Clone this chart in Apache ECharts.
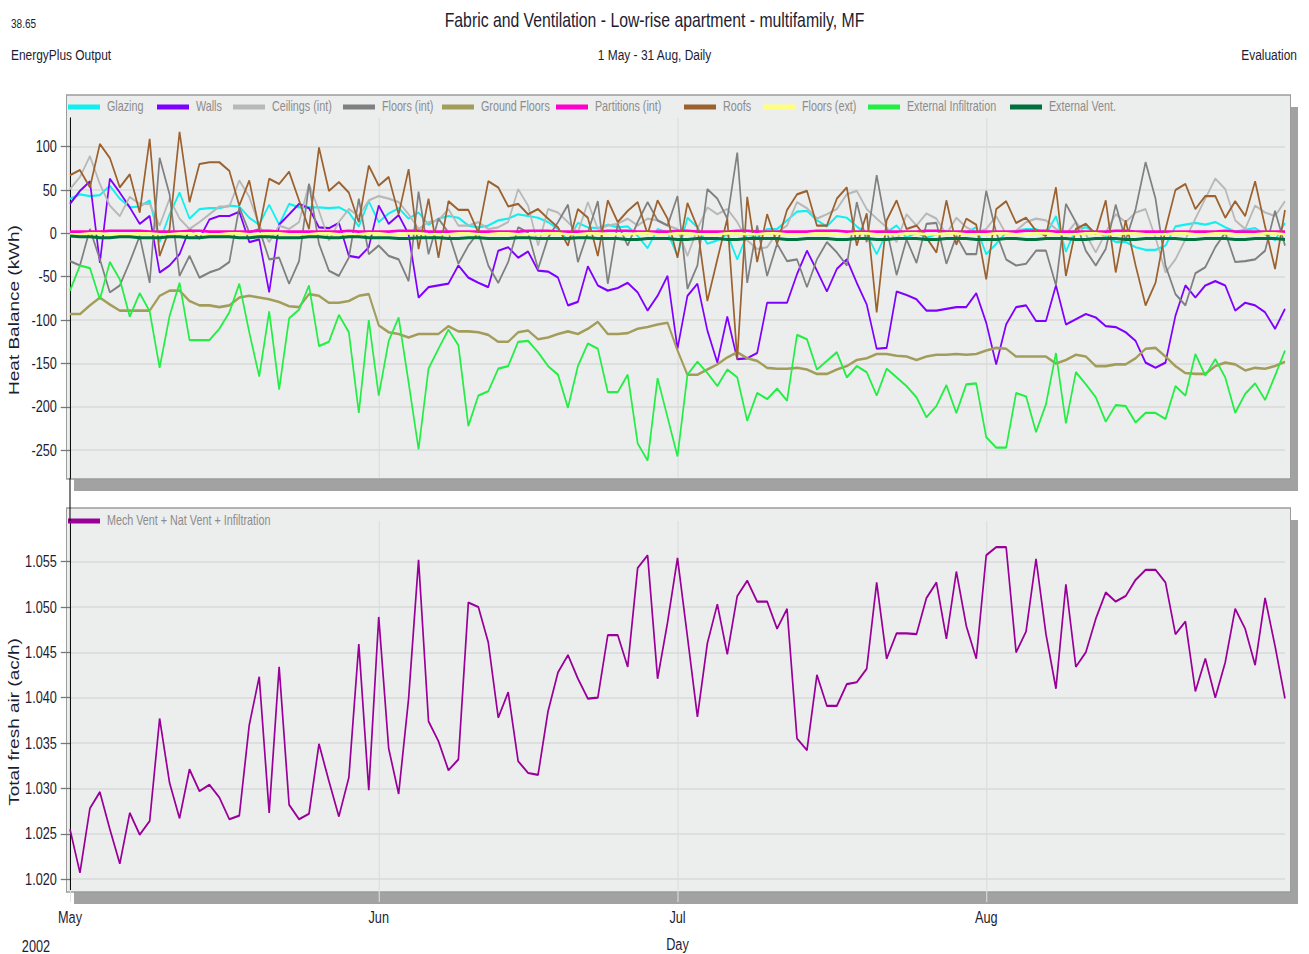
<!DOCTYPE html>
<html>
<head>
<meta charset="utf-8">
<script src="https://cdn.jsdelivr.net/npm/echarts@6/dist/echarts.min.js"></script>
<style>
html,body{margin:0;padding:0;background:#fff;overflow:hidden;width:1309px;height:954px;}
#wrap{width:1309px;height:954px;overflow:hidden;position:relative;}
#chart{width:1700px;height:954px;transform:scaleX(0.77);transform-origin:0 0;position:absolute;left:0;top:0;}
</style>
</head>
<body>
<div id="wrap"><div id="chart"></div></div>
<script>
// ---------- categories / tick labels ----------
const monthNames = ['May', 'Jun', 'Jul', 'Aug'];
const monthLengths = [31, 30, 31, 31];
const yearLabel = '2002';

// ---------- top panel series: Heat Balance (kWh), daily 1 May - 31 Aug ----------
const glazing = [40,45,43,44,55,40,30,31,38,-10,22,47,17,28,29,29,32,31,18,10,33,10,34,30,30,30,29,30,24,8,37,13,
23,29,17,24,10,17,20,18,9,7,9,15,17,22,20,18,13,5,-8,12,7,6,10,7,8,-3,-17,5,1,-26,
18,7,-12,-8,-1,-30,-1,-5,5,5,15,25,26,15,8,20,18,8,-1,-24,1,9,-5,1,-5,-1,3,1,1,7,-24,
-12,1,3,5,5,-1,20,-21,5,7,1,-3,-10,-10,-16,-19,-19,-14,8,10,12,10,13,7,2,4,6,-1,-8,12];

const walls = [34,49,60,-34,63,47,30,11,20,-45,-37,-24,5,-6,16,20,20,25,-10,-7,-68,10,22,34,29,7,6,12,-26,-28,-16,32,
11,21,-1,-74,-62,-60,-58,-37,-51,-57,-62,-20,-16,-28,-21,-43,-44,-51,-83,-79,-38,-60,-66,-63,-57,-68,-89,-72,-49,-133,
-72,-58,-112,-149,-96,-145,-144,-138,-80,-80,-80,-47,-20,-43,-67,-41,-30,-57,-82,-133,-132,-67,-71,-76,-89,-89,-87,-85,-85,-69,-103,
-151,-105,-85,-83,-101,-101,-60,-105,-99,-93,-97,-107,-108,-114,-124,-149,-155,-149,-95,-60,-74,-60,-55,-60,-89,-80,-83,-91,-110,-87];

const ceilingsInt = [51,65,89,57,32,20,42,34,34,9,40,17,5,13,22,31,31,61,42,9,-10,9,5,13,57,26,-8,13,28,20,38,43,
40,36,22,5,13,15,28,9,9,13,5,7,13,51,32,-14,28,24,13,1,36,5,9,11,17,9,17,15,9,5,
-26,5,30,22,28,13,-8,-18,-16,1,9,36,29,17,22,28,45,49,28,17,7,-10,22,9,23,17,-1,18,7,1,5,
20,-1,3,13,17,15,5,-1,13,-1,-22,1,22,13,24,28,-5,-45,-30,-7,17,40,63,51,15,5,32,24,20,37];

const floorsInt = [-32,-37,5,-30,-68,-60,-33,-3,-57,87,45,-49,-26,-51,-45,-41,-33,30,1,5,-30,-28,-58,-32,57,-12,-43,-49,-28,40,-24,-14,
-26,-30,-55,48,-24,17,1,-35,-14,1,-37,-57,-33,7,1,-41,-5,13,33,-33,1,37,-58,11,-14,13,36,15,9,43,
-64,-37,51,40,17,93,-57,9,-49,-12,-32,-30,-62,-30,-10,-22,-37,36,-10,67,5,-48,-7,-34,11,12,-35,-3,-24,-24,49,
1,-30,-37,-35,-20,-20,-60,34,13,-20,-37,-18,33,-8,28,82,40,-37,-70,-83,-46,-39,-16,1,-33,-32,-30,-20,26,-14];

const groundFloors = [-93,-93,-83,-74,-82,-89,-89,-89,-89,-72,-66,-66,-78,-83,-83,-85,-83,-74,-72,-74,-76,-79,-84,-85,-70,-72,-80,-80,-78,-72,-70,-106,
-114,-116,-120,-116,-116,-116,-107,-113,-113,-114,-117,-125,-125,-114,-112,-122,-120,-116,-113,-116,-110,-102,-116,-116,-115,-110,-108,-105,-103,-135,
-163,-163,-157,-151,-143,-137,-144,-147,-155,-156,-156,-155,-157,-162,-162,-157,-153,-146,-144,-139,-139,-141,-142,-146,-142,-140,-140,-139,-140,-139,-135,
-132,-133,-142,-142,-142,-142,-150,-146,-140,-142,-153,-153,-151,-151,-144,-133,-132,-142,-153,-161,-162,-162,-153,-149,-151,-158,-155,-156,-153,-148];

const partitionsInt = [2,2,2,2,3,3,3,3,2,2, 2,2,3,3,2,2,2,2,2,3, 3,2,2,2,2,2,2,2,3,2,
2,2,2,3,3,3,2,2,2,2, 2,2,2,2,2,2,3,3,3,2, 2,2,2,2,3,3,3,2,2,2,
2,3,3,2,2,2,2,3,3,2, 2,2,2,2,2,3,3,3,2,2, 2,2,2,2,2,2,3,3,2,2,
2,2,2,2,2,2,3,3,3,2, 2,2,2,2,2,3,3,2,2,2, 2,2,2,2,2,2,3,2,2,2, 2,2,2];

const roofs = [67,73,53,103,87,53,68,24,109,-26,5,117,36,80,82,82,72,32,61,5,63,57,71,38,5,99,49,59,47,13,78,55,
65,22,74,-18,40,-28,37,27,27,1,60,53,31,34,22,28,17,7,-14,28,18,-26,38,13,26,36,-1,38,17,-28,
35,7,-78,-30,17,-145,42,-33,22,-12,27,45,49,9,9,40,53,-14,23,-91,15,38,5,9,-5,-22,38,-13,17,10,-53,
28,37,12,18,3,-3,53,-49,5,11,-1,38,-45,15,-37,-83,-57,5,50,57,28,43,43,18,37,20,60,8,-41,27];

const floorsExt = [-1,-1,0,0,-1,-1,-1,0,0,-1, -1,0,0,-1,-1,-1,0,0,-1,-1, 0,0,-1,-1,-1,0,0,-1,-1,-1,
0,0,-1,-1,0,0,-1,-1,-1,0, 0,-1,-1,0,0,-1,-1,-1,0,0, -1,-1,0,0,-1,-1,-1,0,0,-1,
-1,0,0,-1,-1,-1,0,0,-1,-1, 0,0,-1,-1,-1,0,0,-1,-1,0, 0,-1,-1,-1,0,0,-1,-1,0,0,
-1,-1,-1,0,0,-1,-1,0,0,-1, -1,-1,0,0,-1,-1,0,0,-1,-1, -1,0,0,-1,-1,0,0,-1,-1,-1, 0,0,-1];

const extInfiltration = [-66,-37,-40,-76,-33,-53,-96,-69,-90,-155,-95,-57,-123,-123,-123,-110,-91,-58,-114,-165,-90,-180,-98,-88,-60,-130,-125,-94,-114,-207,-100,-187,
-124,-97,-172,-249,-156,-133,-111,-129,-222,-187,-182,-156,-153,-125,-124,-137,-153,-163,-201,-153,-127,-133,-183,-183,-163,-242,-262,-167,-212,-257,
-163,-148,-161,-176,-157,-166,-216,-184,-191,-179,-193,-117,-122,-157,-147,-137,-166,-153,-160,-187,-156,-166,-176,-189,-212,-199,-175,-207,-174,-173,-235,
-247,-247,-184,-188,-229,-197,-138,-219,-160,-174,-189,-217,-198,-199,-218,-207,-207,-214,-176,-187,-139,-164,-145,-166,-207,-185,-173,-192,-164,-135];

const extVent = [-3,-4,-4,-5,-5,-4,-4,-5,-5,-5, -4,-4,-5,-5,-4,-4,-4,-5,-5,-4, -4,-5,-5,-5,-4,-4,-5,-5,-4,-4,
-5,-5,-5,-6,-6,-5,-5,-5,-6,-6, -5,-5,-6,-6,-6,-5,-5,-6,-6,-6, -6,-5,-5,-6,-6,-6,-7,-7,-6,-6,
-6,-7,-7,-6,-6,-6,-7,-7,-6,-6, -6,-6,-7,-7,-6,-6,-6,-7,-7,-6, -6,-7,-7,-6,-6,-6,-7,-7,-6,-6,
-6,-7,-7,-7,-6,-6,-7,-7,-6,-6, -6,-7,-7,-6,-6,-6,-7,-7,-6,-6, -6,-6,-7,-7,-6,-6,-6,-7,-7,-6, -6,-6,-7];

// ---------- bottom panel: Total fresh air (ac/h) ----------
const freshAir = [1.0255,1.0207,1.0278,1.0296,1.0255,1.0217,1.0273,1.0249,1.0264,1.0377,
1.0306,1.0267,1.0321,1.0297,1.0304,1.0290,1.0266,1.0270,1.0370,1.0423,
1.0273,1.0434,1.0282,1.0266,1.0272,1.0349,1.0308,1.0269,1.0312,1.0459,
1.0298,1.0489,1.0344,1.0294,1.0399,1.0552,1.0374,1.0352,1.0320,1.0332,
1.0505,1.0500,1.0461,1.0378,1.0406,1.0330,1.0317,1.0315,1.0385,1.0428,
1.0447,1.0421,1.0399,1.0400,1.0469,1.0469,1.0434,1.0543,1.0557,1.0421,
1.0483,1.0554,1.0467,1.0379,1.0460,1.0503,1.0448,1.0512,1.0529,1.0506,
1.0506,1.0476,1.0498,1.0355,1.0342,1.0425,1.0391,1.0391,1.0415,1.0417,
1.0432,1.0527,1.0443,1.0471,1.0471,1.0470,1.0510,1.0527,1.0465,1.0539,
1.0479,1.0443,1.0557,1.0566,1.0566,1.0450,1.0473,1.0553,1.0470,1.0410,
1.0525,1.0434,1.0450,1.0487,1.0516,1.0506,1.0512,1.0530,1.0541,1.0541,
1.0527,1.0470,1.0484,1.0407,1.0443,1.0400,1.0439,1.0498,1.0476,1.0436,
1.0510,1.0457,1.0399];

// ---------- build category axis (one entry per day) ----------
const days = [];
monthNames.forEach((m, mi) => { for (let d = 1; d <= monthLengths[mi]; d++) days.push(m + ' ' + d); });
const isMonthStart = (v) => / 1$/.test(v);

// horizontal compression of the whole drawing (the reference is horizontally condensed)
const SX = 0.77;
const W = 1700;
const px = (v) => v / SX;   // visual x -> drawing x

const FONT = "'Liberation Sans', Arial, sans-serif";
const TXT = '#1c1c33';

const topSeriesDefs = [
  ['Glazing', glazing, '#10F0F0', 2.2],
  ['Walls', walls, '#8000FF', 2.2],
  ['Ceilings (int)', ceilingsInt, '#B8B8B8', 2.2],
  ['Floors (int)', floorsInt, '#808080', 2.2],
  ['Ground Floors', groundFloors, '#A39D5C', 2.6],
  ['Partitions (int)', partitionsInt, '#FF00CC', 2.6],
  ['Roofs', roofs, '#9B612E', 2.2],
  ['Floors (ext)', floorsExt, '#FFFF80', 2.6],
  ['External Infiltration', extInfiltration, '#22EE44', 2.2],
  ['External Vent.', extVent, '#00703C', 3]
];
const legendLeft = [68, 157, 233, 343, 442, 556, 684, 763, 868, 1010];

const series = topSeriesDefs.map(([name, data, color, w]) => ({
  name, type: 'line', data, xAxisIndex: 0, yAxisIndex: 0,
  symbol: 'none', color, lineStyle: { color, width: w }, z: 3
}));
series.push({
  name: 'Mech Vent + Nat Vent + Infiltration', type: 'line', data: freshAir,
  xAxisIndex: 1, yAxisIndex: 1, symbol: 'none', color: '#990099',
  lineStyle: { color: '#990099', width: 2.2 }, z: 3
});

function panel(y, h) {
  return [
    { type: 'rect', z: -2, shape: { x: px(74), y: y + 12, width: px(1224), height: h }, style: { fill: '#A2A2A2' } },
    { type: 'rect', z: -1, shape: { x: px(66.5), y: y, width: px(1224), height: h }, style: { fill: '#ECEDED', stroke: '#9C9C9C', lineWidth: 1.3 } }
  ];
}

const legendText = { fontFamily: FONT, fontSize: 14, color: '#8C8C8C', padding: [0, 0, 0, 4] };
const legends = topSeriesDefs.map((d, i) => ({
  data: [d[0]], left: px(legendLeft[i]), top: 100, padding: 0, itemWidth: px(32), itemHeight: 5,
  icon: 'rect', textStyle: legendText
}));
legends.push({ data: ['Mech Vent + Nat Vent + Infiltration'], left: px(68), top: 514, padding: 0,
  itemWidth: px(32), itemHeight: 5, icon: 'rect', textStyle: legendText });

const chart = echarts.init(document.getElementById('chart'), null, { renderer: 'svg', width: W, height: 954 });
chart.setOption({
  animation: false,
  backgroundColor: '#ffffff',
  title: [
    { text: 'Fabric and Ventilation - Low-rise apartment - multifamily, MF', left: 'center', top: 9, padding: 0,
      textStyle: { fontFamily: FONT, fontSize: 20.5, fontWeight: 'normal', color: TXT } },
    { text: '1 May - 31 Aug, Daily', left: 'center', top: 46, padding: 0,
      textStyle: { fontFamily: FONT, fontSize: 15.5, fontWeight: 'normal', color: TXT } },
    { text: '38.65', left: px(11), top: 16, padding: 0,
      textStyle: { fontFamily: FONT, fontSize: 13, fontWeight: 'normal', color: TXT } },
    { text: 'EnergyPlus Output', left: px(11), top: 46, padding: 0,
      textStyle: { fontFamily: FONT, fontSize: 15.5, fontWeight: 'normal', color: TXT } },
    { text: 'Evaluation', right: px(12), top: 46, padding: 0,
      textStyle: { fontFamily: FONT, fontSize: 15.5, fontWeight: 'normal', color: TXT } }
  ],
  graphic: [
    ...panel(95, 384),
    ...panel(508, 384),
    { type: 'line', z: 10, shape: { x1: px(70), y1: 478, x2: px(70), y2: 521 }, style: { stroke: '#000', lineWidth: 1.3 } },
    { type: 'text', z: 10, x: px(14), y: 310, rotation: Math.PI / 2,
      style: { text: 'Heat Balance (kWh)', fill: TXT, font: '19px ' + FONT, textAlign: 'center', textVerticalAlign: 'middle' } },
    { type: 'text', z: 10, x: px(14), y: 722, rotation: Math.PI / 2,
      style: { text: 'Total fresh air (ac/h)', fill: TXT, font: '19px ' + FONT, textAlign: 'center', textVerticalAlign: 'middle' } },
    { type: 'text', z: 10, x: px(36), y: 946,
      style: { text: yearLabel, fill: TXT, font: '16.5px ' + FONT, textAlign: 'center', textVerticalAlign: 'middle' } }
  ],
  legend: legends,
  grid: [
    { left: px(70), right: W - px(1285), top: 118, height: 360, containLabel: false },
    { left: px(70), right: W - px(1285), top: 521, height: 371, containLabel: false }
  ],
  xAxis: [
    { type: 'category', gridIndex: 0, data: days, boundaryGap: false,
      axisLine: { show: false }, axisTick: { show: false }, axisLabel: { show: false },
      splitLine: { show: true, interval: (i, v) => i > 0 && isMonthStart(v), lineStyle: { color: '#DADADA', width: 1.3 } } },
    { type: 'category', gridIndex: 1, data: days, boundaryGap: false,
      name: 'Day', nameLocation: 'middle', nameGap: 46,
      nameTextStyle: { fontFamily: FONT, fontSize: 16.5, color: TXT },
      axisLine: { show: false },
      axisTick: { show: true, interval: (i, v) => isMonthStart(v), length: 12, lineStyle: { color: '#E2E2E2', width: 1.3 } },
      axisLabel: { show: true, interval: (i, v) => isMonthStart(v), margin: 19,
        formatter: (v) => v.split(' ')[0], fontFamily: FONT, fontSize: 16.5, color: TXT },
      splitLine: { show: true, interval: (i, v) => i > 0 && isMonthStart(v), lineStyle: { color: '#DADADA', width: 1.3 } } }
  ],
  yAxis: [
    { type: 'value', gridIndex: 0, min: -282, max: 133, splitNumber: 8,
      axisLine: { show: true, lineStyle: { color: '#000', width: 1.3 } },
      axisTick: { show: true, length: 12, lineStyle: { color: '#777', width: 1.3 } },
      axisLabel: { showMinLabel: false, showMaxLabel: false, margin: 17, fontFamily: FONT, fontSize: 16.5, color: TXT },
      splitLine: { show: true, showMinLine: false, showMaxLine: false, lineStyle: { color: '#D9D9D9', width: 1.5 } } },
    { type: 'value', gridIndex: 1, min: 1.0188, max: 1.05948, splitNumber: 8,
      axisLine: { show: true, lineStyle: { color: '#000', width: 1.3 } },
      axisTick: { show: true, length: 12, lineStyle: { color: '#777', width: 1.3 } },
      axisLabel: { showMinLabel: false, showMaxLabel: false, margin: 17, fontFamily: FONT, fontSize: 16.5, color: TXT,
        formatter: (v) => v.toFixed(3) },
      splitLine: { show: true, showMinLine: false, showMaxLine: false, lineStyle: { color: '#D9D9D9', width: 1.5 } } }
  ],
  series
});
</script>
</body>
</html>
